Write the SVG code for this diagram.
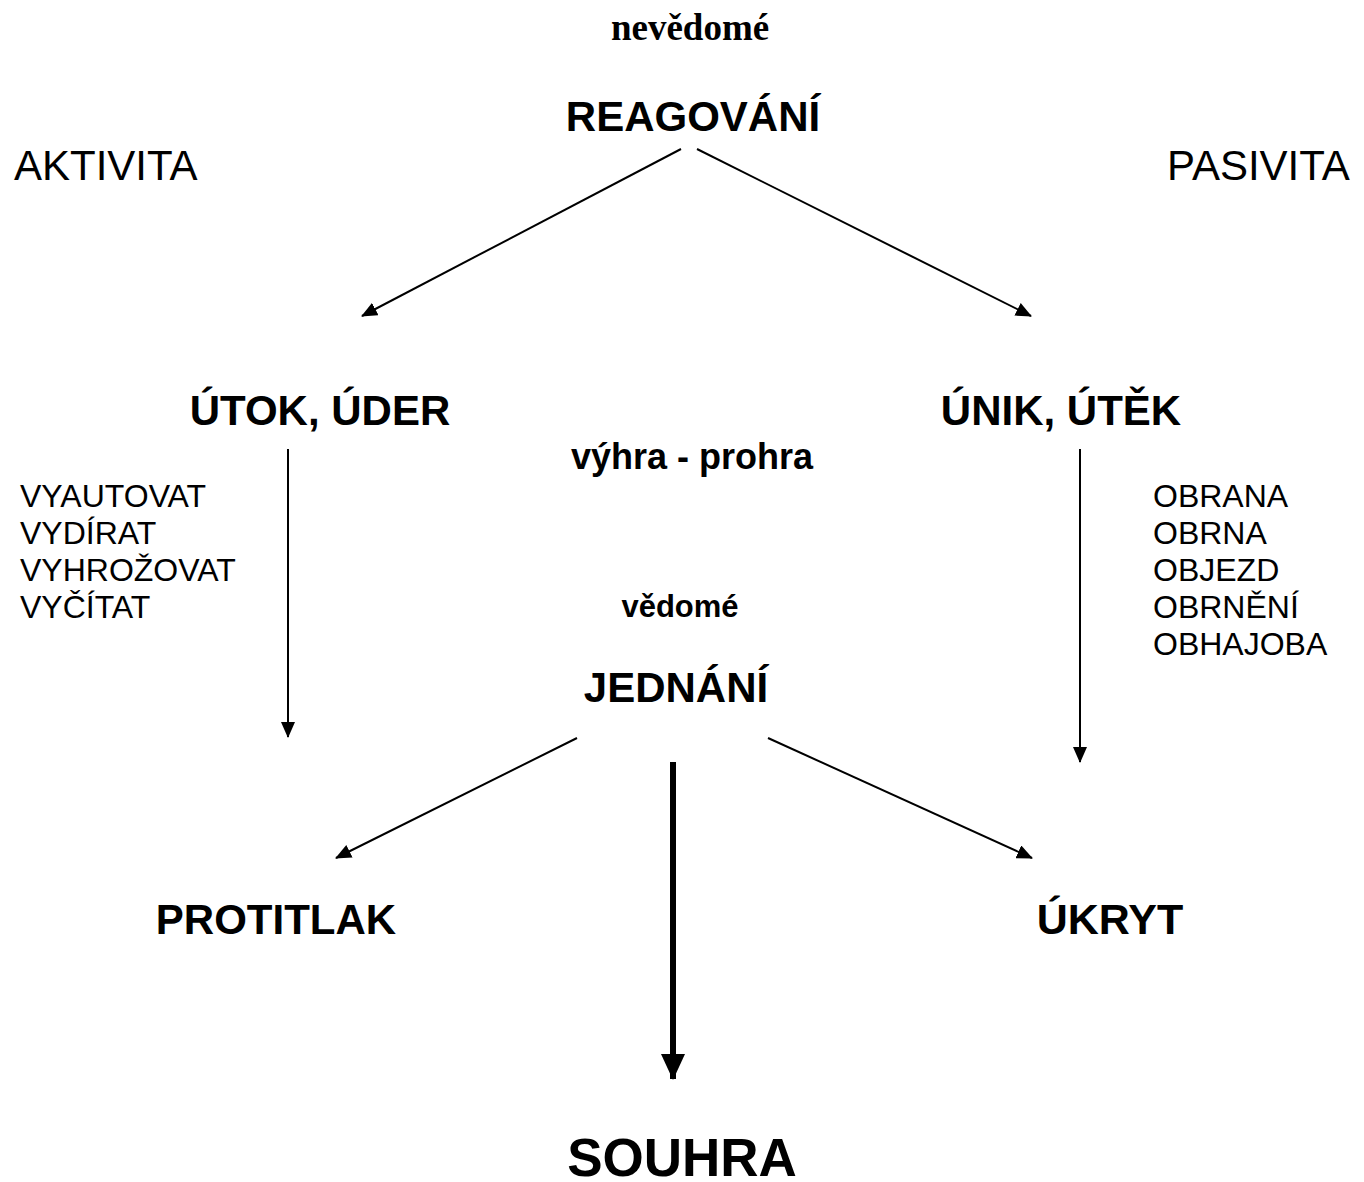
<svg xmlns="http://www.w3.org/2000/svg" width="1364" height="1182" viewBox="0 0 1364 1182">
<style>
.b{font-family:"Liberation Sans",Arial,sans-serif;font-weight:bold;fill:#000}
.r{font-family:"Liberation Sans",Arial,sans-serif;fill:#000}
.s{font-family:"Liberation Serif","Times New Roman",serif;font-weight:bold;fill:#000}
.c{stroke:#000;stroke-width:2;fill:none}
</style>
<defs>
<marker id="ah" markerUnits="userSpaceOnUse" markerWidth="16" markerHeight="14" refX="15" refY="7" orient="auto"><path d="M0,0 L16,7 L0,14 Z" fill="#000"/></marker>
<marker id="ahb" markerUnits="userSpaceOnUse" markerWidth="26" markerHeight="24" refX="25" refY="12" orient="auto"><path d="M0,0 L26,12 L0,24 Z" fill="#000"/></marker>
</defs>
<rect width="1364" height="1182" fill="#fff"/>
<g id="connectors">
<line class="c" x1="681" y1="149" x2="362" y2="316" marker-end="url(#ah)"/>
<line class="c" x1="697" y1="149" x2="1031" y2="316" marker-end="url(#ah)"/>
<line class="c" x1="288" y1="449" x2="288" y2="737" marker-end="url(#ah)"/>
<line class="c" x1="1080" y1="449" x2="1080" y2="762" marker-end="url(#ah)"/>
<line class="c" x1="577" y1="738" x2="336" y2="858" marker-end="url(#ah)"/>
<line class="c" x1="768" y1="738" x2="1032" y2="858" marker-end="url(#ah)"/>
<line x1="673" y1="762" x2="673" y2="1079" stroke="#000" stroke-width="6" marker-end="url(#ahb)"/>
</g>
<g id="nevedome"><text class="s" x="690" y="40" font-size="37" text-anchor="middle">nevědomé</text></g>
<g id="reagovani"><text class="b" x="693" y="131" font-size="42" text-anchor="middle">REAGOVÁNÍ</text></g>
<g id="aktivita"><text class="r" x="14" y="180" font-size="42">AKTIVITA</text></g>
<g id="pasivita"><text class="r" x="1167" y="180" font-size="42">PASIVITA</text></g>
<g id="utok"><text class="b" x="320" y="425" font-size="42" text-anchor="middle">ÚTOK, ÚDER</text></g>
<g id="unik"><text class="b" x="1061" y="425" font-size="42" text-anchor="middle">ÚNIK, ÚTĚK</text></g>
<g id="vyhra"><text class="b" x="692" y="469" font-size="36" text-anchor="middle">výhra - prohra</text></g>
<g id="list-left">
<text class="r" x="20" y="507" font-size="32">VYAUTOVAT</text>
<text class="r" x="20" y="544" font-size="32">VYDÍRAT</text>
<text class="r" x="20" y="581" font-size="32">VYHROŽOVAT</text>
<text class="r" x="20" y="618" font-size="32">VYČÍTAT</text>
</g>
<g id="list-right">
<text class="r" x="1153" y="507" font-size="32">OBRANA</text>
<text class="r" x="1153" y="544" font-size="32">OBRNA</text>
<text class="r" x="1153" y="581" font-size="32">OBJEZD</text>
<text class="r" x="1153" y="618" font-size="32">OBRNĚNÍ</text>
<text class="r" x="1153" y="655" font-size="32">OBHAJOBA</text>
</g>
<g id="vedome"><text class="b" x="680" y="617" font-size="31" text-anchor="middle">vědomé</text></g>
<g id="jednani"><text class="b" x="676" y="702" font-size="42" text-anchor="middle">JEDNÁNÍ</text></g>
<g id="protitlak"><text class="b" x="276" y="934" font-size="42" text-anchor="middle">PROTITLAK</text></g>
<g id="ukryt"><text class="b" x="1110" y="934" font-size="43" text-anchor="middle">ÚKRYT</text></g>
<g id="souhra"><text class="b" x="682" y="1176" font-size="53" text-anchor="middle">SOUHRA</text></g>
</svg>
